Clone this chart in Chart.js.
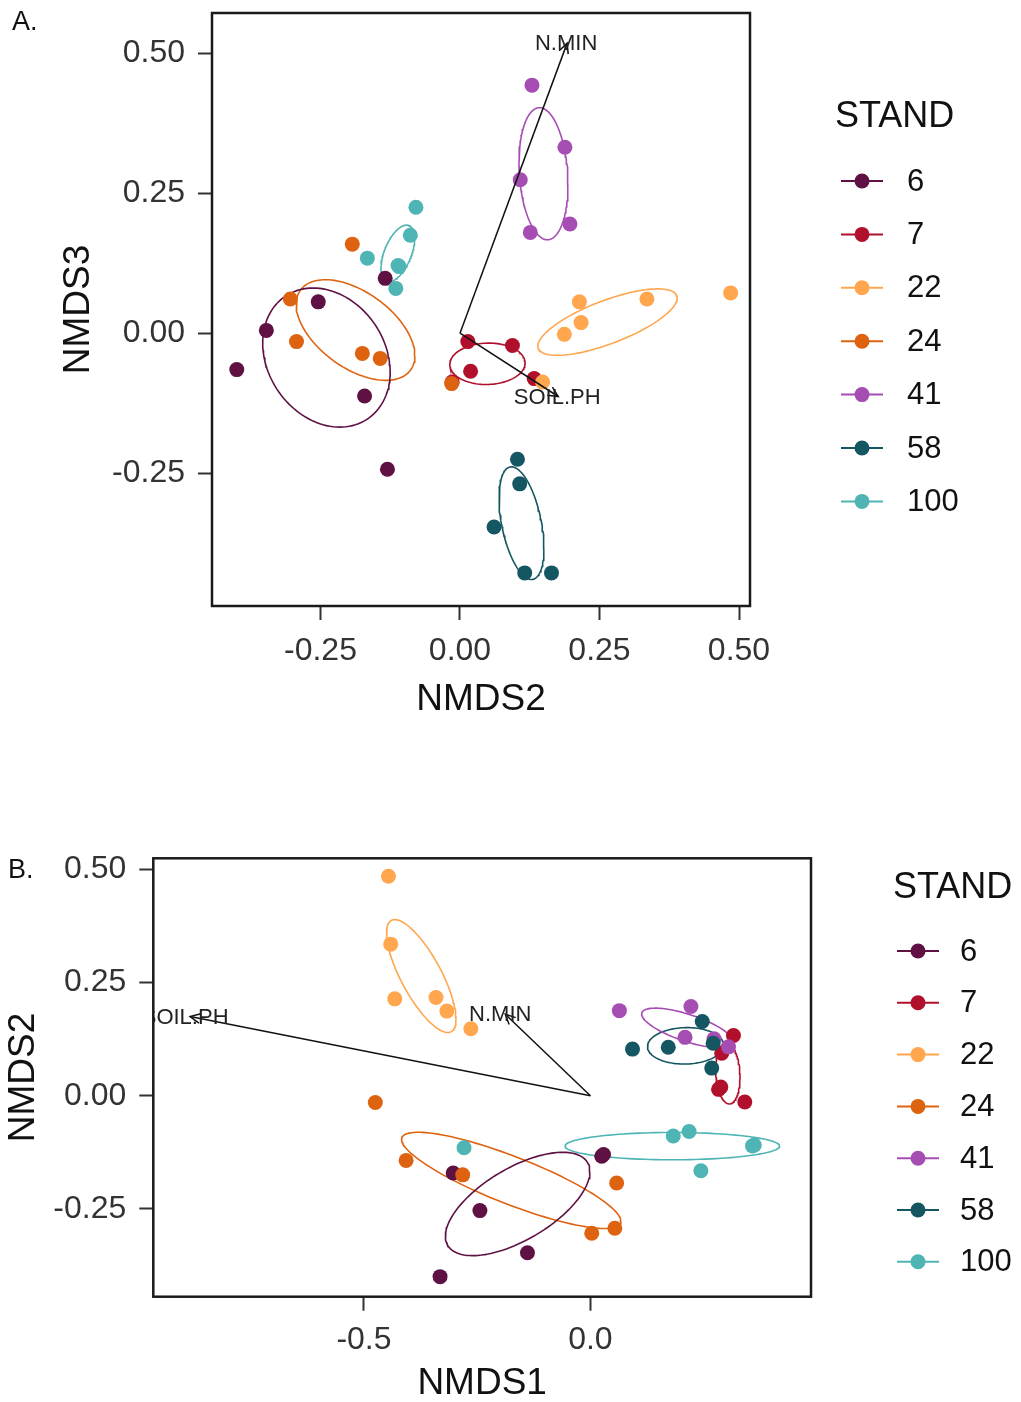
<!DOCTYPE html>
<html>
<head>
<meta charset="utf-8">
<script src="https://cdn.jsdelivr.net/npm/chart.js@4.4.1/dist/chart.umd.min.js"></script>
<style>
  body { margin: 0; background: #fff; }
  #wrap { position: relative; width: 1021px; height: 1402px; }
  canvas { position: absolute; left: 0; }
</style>
</head>
<body>
<div id="wrap">
  <canvas id="chartA" width="1021" height="720" style="top:0"></canvas>
  <canvas id="chartB" width="1021" height="562" style="top:840px"></canvas>
</div>
<script>
var stands = ['6', '7', '22', '24', '41', '58', '100'];
var standColors = ['#5E1142', '#B0102B', '#FFA64F', '#DE6311', '#A54DB3', '#155663', '#4EB4B4'];

// one entry per plot (site scores)
var plotStand = ['6','6','6','6','6','6',
                 '7','7','7','7','7',
                 '22','22','22','22','22','22',
                 '24','24','24','24','24','24',
                 '41','41','41','41','41',
                 '58','58','58','58','58',
                 '100','100','100','100','100','100'];
var nmds1 = [-0.332, -0.139, -0.244, -0.303, 0.025, 0.029,
             0.316, 0.290, 0.288, 0.283, 0.341,
             -0.446, -0.441, -0.432, -0.341, -0.317, -0.264,
             0.003, 0.054, 0.058, -0.282, -0.407, -0.475,
             0.222, 0.064, 0.209, 0.273, 0.305,
             0.268, 0.093, 0.172, 0.271, 0.247,
             0.244, -0.279, 0.362, 0.183, 0.218, 0.358];
var nmds2 = [-0.400, -0.347, -0.254, -0.171, -0.134, -0.130,
             0.133, 0.094, 0.019, 0.014, -0.014,
             0.485, 0.335, 0.214, 0.217, 0.187, 0.148,
             -0.304, -0.293, -0.193, -0.175, -0.143, -0.015,
             0.197, 0.188, 0.129, 0.126, 0.108,
             0.061, 0.103, 0.107, 0.116, 0.164,
             -0.166, -0.115, -0.109, -0.089, -0.079, -0.111];
var nmds3 = [-0.065, 0.005, 0.056, -0.112, 0.098, -0.243,
             -0.081, -0.022, -0.068, -0.015, -0.087,
             0.072, 0.061, 0.056, 0.019, -0.002, -0.087,
             0.061, -0.015, 0.159, -0.036, -0.045, -0.090,
             0.195, 0.332, 0.443, 0.180, 0.274,
             -0.346, -0.225, -0.269, -0.428, -0.428,
             0.134, 0.080, 0.119, 0.175, 0.225, 0.121];

// fitted environmental vectors
var vecNames = ['N.MIN', 'SOIL.PH'];
var vecA_x = [0.192, 0.176];    // NMDS2
var vecA_y = [0.518, -0.113];   // NMDS3
var vecB_x = [-0.188, -0.884];  // NMDS1
var vecB_y = [0.180, 0.175];    // NMDS2

var ticksA_x = [-0.25, 0, 0.25, 0.5];
var ticksA_y = [-0.25, 0, 0.25, 0.5];
var ticksB_x = [-0.5, 0];
var ticksB_y = [-0.25, 0, 0.25, 0.5];

var FONT = '"Liberation Sans", Arial, sans-serif';

// 95% standard-error ellipse (as vegan::ordiellipse kind="se")
function seEllipse(px, py) {
  var n = px.length, mx = 0, my = 0, i;
  for (i = 0; i < n; i++) { mx += px[i]; my += py[i]; }
  mx /= n; my /= n;
  var sxx = 0, sxy = 0, syy = 0;
  for (i = 0; i < n; i++) {
    sxx += (px[i] - mx) * (px[i] - mx);
    sxy += (px[i] - mx) * (py[i] - my);
    syy += (py[i] - my) * (py[i] - my);
  }
  sxx /= (n - 1) * n; sxy /= (n - 1) * n; syy /= (n - 1) * n;
  var s = Math.sqrt(5.991464547);
  var l11 = Math.sqrt(sxx), l21 = sxy / l11, l22 = Math.sqrt(Math.max(syy - l21 * l21, 0));
  var pts = [];
  for (var k = 0; k <= 120; k++) {
    var t = 2 * Math.PI * k / 120, c = Math.cos(t), si = Math.sin(t);
    pts.push({ x: mx + s * l11 * c, y: my + s * (l21 * c + l22 * si) });
  }
  return pts;
}

function makeChart(id, xs, ys, vx, vy, cfg) {
  var datasets = [];
  // arrows on top
  for (var v = 0; v < vecNames.length; v++) {
    datasets.push({
      data: [{ x: 0, y: 0 }, { x: vx[v], y: vy[v] }],
      showLine: true, borderColor: '#111', borderWidth: 1.5,
      pointRadius: 0, order: 0
    });
  }
  for (var g = 0; g < stands.length; g++) {
    var gx = [], gy = [], pts = [];
    for (var i = 0; i < plotStand.length; i++) {
      if (plotStand[i] === stands[g]) {
        gx.push(xs[i]); gy.push(ys[i]);
        pts.push({ x: xs[i], y: ys[i] });
      }
    }
    datasets.push({
      label: stands[g], data: pts,
      backgroundColor: standColors[g], borderColor: standColors[g],
      pointRadius: 7.5, borderWidth: 0, order: 10 + (stands.length - g)
    });
    datasets.push({
      data: seEllipse(gx, gy), showLine: true,
      borderColor: standColors[g], borderWidth: 1.6,
      pointRadius: 0, fill: false, order: 30 + g
    });
  }

  var deco = {
    id: 'deco',
    afterDatasetsDraw: function (chart) {
      var ctx = chart.ctx, a = chart.chartArea;
      var sx = chart.scales.x, sy = chart.scales.y;
      ctx.save();
      ctx.beginPath();
      ctx.rect(a.left, a.top, a.right - a.left, a.bottom - a.top);
      ctx.clip();
      var ox = sx.getPixelForValue(0), oy = sy.getPixelForValue(0);
      for (var v = 0; v < vecNames.length; v++) {
        var hx = sx.getPixelForValue(vx[v]), hy = sy.getPixelForValue(vy[v]);
        var ang = Math.atan2(hy - oy, hx - ox);
        ctx.strokeStyle = '#111';
        ctx.lineWidth = 1.5;
        ctx.beginPath();
        ctx.moveTo(hx - 11 * Math.cos(ang - 0.45), hy - 11 * Math.sin(ang - 0.45));
        ctx.lineTo(hx, hy);
        ctx.lineTo(hx - 11 * Math.cos(ang + 0.45), hy - 11 * Math.sin(ang + 0.45));
        ctx.stroke();
        ctx.fillStyle = '#222';
        ctx.font = '22px ' + FONT;
        ctx.textAlign = 'center';
        ctx.textBaseline = 'middle';
        ctx.fillText(vecNames[v], hx + cfg.labelDx, hy + 1);
      }
      ctx.restore();
      // panel border
      ctx.save();
      ctx.strokeStyle = '#1a1a1a';
      ctx.lineWidth = 2.5;
      ctx.strokeRect(a.left, a.top, a.right - a.left, a.bottom - a.top);
      ctx.restore();
    },
    afterDraw: function (chart) {
      var ctx = chart.ctx, L = cfg.legend;
      ctx.save();
      ctx.fillStyle = '#111';
      ctx.textAlign = 'left';
      ctx.textBaseline = 'middle';
      ctx.font = '36px ' + FONT;
      ctx.fillText('STAND', L.titleX, L.titleY);
      ctx.font = '31px ' + FONT;
      for (var g = 0; g < stands.length; g++) {
        var y = L.rowY + g * L.rowStep;
        ctx.strokeStyle = standColors[g];
        ctx.lineWidth = 2;
        ctx.beginPath();
        ctx.moveTo(L.keyX0, y);
        ctx.lineTo(L.keyX1, y);
        ctx.stroke();
        ctx.fillStyle = standColors[g];
        ctx.beginPath();
        ctx.arc((L.keyX0 + L.keyX1) / 2, y, 7.5, 0, 2 * Math.PI);
        ctx.fill();
        ctx.fillStyle = '#111';
        ctx.fillText(stands[g], L.labelX, y + 1);
      }
      ctx.font = '27px ' + FONT;
      ctx.textBaseline = 'alphabetic';
      ctx.fillText(cfg.panel, cfg.panelX, cfg.panelY);
      ctx.restore();
    }
  };

  function fmt(dec) { return function (val) { return Number(val).toFixed(dec); }; }

  return new Chart(document.getElementById(id), {
    type: 'scatter',
    data: { datasets: datasets },
    options: {
      responsive: false, animation: false, events: [],
      layout: { padding: cfg.pad },
      plugins: { legend: { display: false }, tooltip: { enabled: false } },
      scales: {
        x: {
          type: 'linear', min: cfg.xmin, max: cfg.xmax,
          afterBuildTicks: function (s) { s.ticks = cfg.tx.map(function (t) { return { value: t }; }); },
          afterFit: function (s) { s.height = cfg.xh; s.paddingLeft = 0; s.paddingRight = 0; },
          ticks: { font: { family: FONT, size: 32 }, color: '#333', padding: cfg.xpad, maxRotation: 0, callback: fmt(cfg.xdec) },
          grid: { drawOnChartArea: false, drawTicks: true, tickLength: 14, tickWidth: 2, tickColor: '#333' },
          border: { display: false },
          title: { display: true, text: cfg.xtitle, color: '#111', font: { family: FONT, size: 37, lineHeight: 1 }, padding: { top: 0, bottom: cfg.xtpad } }
        },
        y: {
          type: 'linear', min: cfg.ymin, max: cfg.ymax,
          afterBuildTicks: function (s) { s.ticks = cfg.ty.map(function (t) { return { value: t }; }); },
          afterFit: function (s) { s.width = cfg.yw; s.paddingTop = 0; s.paddingBottom = 0; },
          ticks: { font: { family: FONT, size: 32 }, color: '#333', padding: 13, callback: fmt(2) },
          grid: { drawOnChartArea: false, drawTicks: true, tickLength: 14, tickWidth: 2, tickColor: '#333' },
          border: { display: false },
          title: { display: true, text: cfg.ytitle, color: '#111', font: { family: FONT, size: 37, lineHeight: 1 }, padding: { top: cfg.ytpad, bottom: 0 } }
        }
      }
    },
    plugins: [deco]
  });
}

makeChart('chartA', nmds2, nmds3, vecA_x, vecA_y, {
  xmin: -0.4444, xmax: 0.5197, ymin: -0.4871, ymax: 0.5718,
  tx: ticksA_x, ty: ticksA_y, xdec: 2,
  pad: { left: 0, top: 13, right: 271, bottom: 0 },
  yw: 212, xh: 114, xpad: 12, xtpad: 2, ytpad: 60,
  xtitle: 'NMDS2', ytitle: 'NMDS3', labelDx: -1,
  panel: 'A.', panelX: 12, panelY: 30,
  legend: { titleX: 835, titleY: 117, rowY: 181, rowStep: 53.4, keyX0: 841, keyX1: 883, labelX: 907 }
});

makeChart('chartB', nmds1, nmds2, vecB_x, vecB_y, {
  xmin: -0.9653, xmax: 0.4872, ymin: -0.4443, ymax: 0.5247,
  tx: ticksB_x, ty: ticksB_y, xdec: 1,
  pad: { left: 0, top: 18.3, right: 210, bottom: 0 },
  yw: 153.3, xh: 105.3, xpad: 10, xtpad: 0, ytpad: 5,
  xtitle: 'NMDS1', ytitle: 'NMDS2', labelDx: -5,
  panel: 'B.', panelX: 8, panelY: 38,
  legend: { titleX: 893, titleY: 48, rowY: 111, rowStep: 51.8, keyX0: 897, keyX1: 939, labelX: 960 }
});
</script>
</body>
</html>
